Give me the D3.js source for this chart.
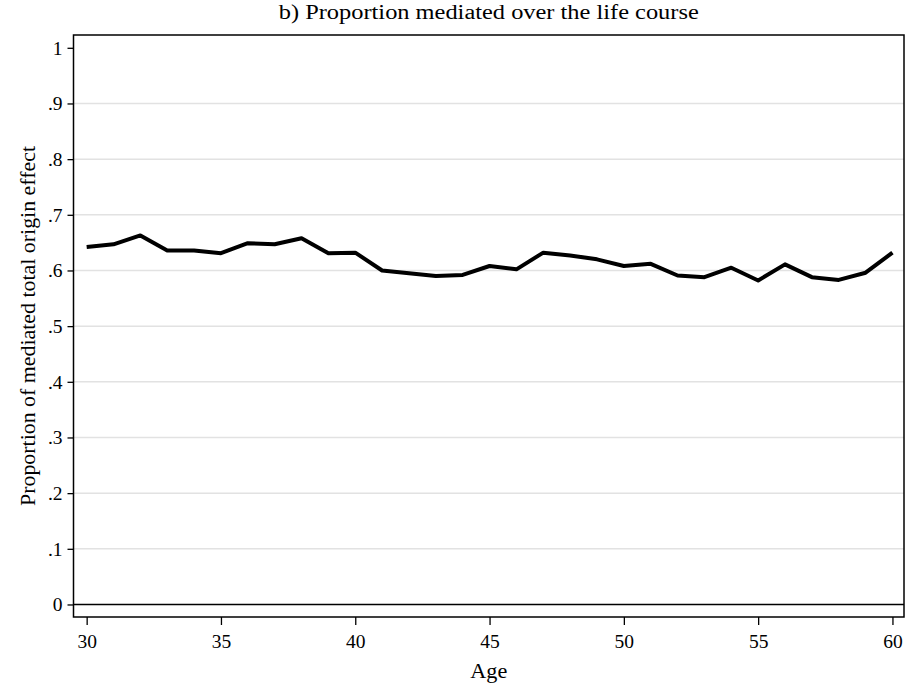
<!DOCTYPE html>
<html>
<head>
<meta charset="utf-8">
<script src="https://cdn.jsdelivr.net/npm/d3@7"></script>
<style>
  body { margin: 0; background: #fff; }
</style>
</head>
<body>
<svg id="chart"></svg>
<script>
var ages = [30, 31, 32, 33, 34, 35, 36, 37, 38, 39, 40, 41, 42, 43, 44, 45,
  46, 47, 48, 49, 50, 51, 52, 53, 54, 55, 56, 57, 58, 59, 60];
var proportion = [0.642, 0.647, 0.663, 0.636, 0.636, 0.631, 0.649, 0.647, 0.658, 0.631, 0.632,
  0.600, 0.595, 0.590, 0.592, 0.608, 0.602, 0.632, 0.627, 0.620, 0.608,
  0.612, 0.591, 0.588, 0.605, 0.582, 0.611, 0.588, 0.583, 0.596, 0.632];
var xTicks = [30, 35, 40, 45, 50, 55, 60];
var yTicks = [0, 0.1, 0.2, 0.3, 0.4, 0.5, 0.6, 0.7, 0.8, 0.9, 1];
var yTickLabels = ["0", ".1", ".2", ".3", ".4", ".5", ".6", ".7", ".8", ".9", "1"];

var FONT = "'Liberation Serif'";
var W = 915, H = 689;
var margin = { top: 35, right: 11, bottom: 72, left: 73.5 };
var width = W - margin.left - margin.right,
  height = H - margin.top - margin.bottom;

var svg = d3.select("#chart").attr("width", W).attr("height", H);
var g = svg.append("g")
  .attr("transform", "translate(" + margin.left + "," + margin.top + ")");

var x = d3.scaleLinear().domain([29.51, 60.43]).range([0, width]);
var y = d3.scaleLinear().domain([-0.0225, 1.023]).range([height, 0]);

// gridlines (not at 0 and 1)
g.selectAll(".grid")
  .data(yTicks.filter(function (d) { return d > 0 && d < 1; }))
  .enter().append("line")
  .attr("x1", 0).attr("x2", width)
  .attr("y1", function (d) { return y(d); })
  .attr("y2", function (d) { return y(d); })
  .attr("stroke", "#e2e2e2")
  .attr("stroke-width", 1.5);

// zero line
g.append("line")
  .attr("x1", 0).attr("x2", width)
  .attr("y1", y(0)).attr("y2", y(0))
  .attr("stroke", "#000").attr("stroke-width", 1.5);

// y axis
var yAxis = g.append("g")
  .call(d3.axisLeft(y).tickValues(yTicks)
    .tickFormat(function (d, i) { return yTickLabels[i]; })
    .tickSize(6).tickPadding(5));
yAxis.attr("font-family", null).attr("font-size", null);
yAxis.select(".domain").remove();
yAxis.selectAll(".tick line").attr("stroke", "#000").attr("stroke-width", 1.3);
yAxis.selectAll("text").style("font-size", "19.5px")
  .style("font-family", FONT).attr("fill", "#000");

// x axis
var xAxis = g.append("g")
  .attr("transform", "translate(0," + height + ")")
  .call(d3.axisBottom(x).tickValues(xTicks).tickSize(8).tickPadding(9));
xAxis.attr("font-family", null).attr("font-size", null);
xAxis.select(".domain").remove();
xAxis.selectAll(".tick line").attr("stroke", "#000").attr("stroke-width", 1.3);
xAxis.selectAll("text").style("font-size", "19.5px")
  .style("font-family", FONT).attr("fill", "#000");

// frame
g.append("rect")
  .attr("x", 0).attr("y", 0)
  .attr("width", width).attr("height", height)
  .attr("fill", "none").attr("stroke", "#000").attr("stroke-width", 1.5);

// the line
g.append("path")
  .datum(ages.map(function (a, i) { return [a, proportion[i]]; }))
  .attr("fill", "none")
  .attr("stroke", "#000")
  .attr("stroke-width", 4)
  .attr("stroke-linejoin", "round")
  .attr("d", d3.line()
    .x(function (d) { return x(d[0]); })
    .y(function (d) { return y(d[1]); }));

// title (the original font runs wider than Liberation Serif)
svg.append("text")
  .attr("x", margin.left + width / 2)
  .attr("y", 18.5)
  .attr("text-anchor", "middle")
  .attr("textLength", 420)
  .attr("lengthAdjust", "spacingAndGlyphs")
  .style("font-family", FONT)
  .style("font-size", "20.5px")
  .text("b) Proportion mediated over the life course");

// axis titles
svg.append("text")
  .attr("x", margin.left + width / 2)
  .attr("y", 678)
  .attr("text-anchor", "middle")
  .attr("textLength", 37)
  .attr("lengthAdjust", "spacingAndGlyphs")
  .style("font-family", FONT)
  .style("font-size", "20.5px")
  .text("Age");

svg.append("text")
  .attr("transform", "translate(35," + (margin.top + height / 2) + ") rotate(-90)")
  .attr("text-anchor", "middle")
  .attr("textLength", 360)
  .attr("lengthAdjust", "spacingAndGlyphs")
  .style("font-family", FONT)
  .style("font-size", "20.5px")
  .text("Proportion of mediated total origin effect");
</script>
</body>
</html>
